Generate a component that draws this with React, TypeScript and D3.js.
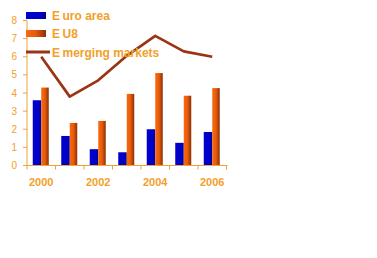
import React from "react";
import * as d3 from "d3";

const years = ["2000", "2001", "2002", "2003", "2004", "2005", "2006"];
const euroArea = [3.6, 1.63, 0.9, 0.73, 2.0, 1.25, 1.85];
const eu8 = [4.3, 2.35, 2.46, 3.95, 5.1, 3.85, 4.27];
const emerging = [6.0, 3.8, 4.7, 6.05, 7.15, 6.3, 6.0];
const yTicks = [0, 1, 2, 3, 4, 5, 6, 7, 8];
const xLabels = ["2000", "2002", "2004", "2006"];
const seriesNames = ["Euro area", "EU8", "Emerging markets"];

const W = 377, H = 258;
const left = 27, right = 226.5, top = 20.5, bottom = 165.5;
const axisColor = "#EEA23A";
const textColor = "#F2A02A";
const lineColor = "#9A3412";

export default function App() {
  const x = d3.scaleBand<string>().domain(years).range([left, right]).padding(0);
  const y = d3.scaleLinear().domain([0, 8]).range([bottom, top]);
  const bw = 8;
  const line = d3
    .line<number>()
    .x((_, i) => (x(years[i]) as number) + x.bandwidth() / 2)
    .y((d) => y(d))
    .curve(d3.curveLinear);

  return (
    <svg width={W} height={H} style={{ position: "absolute", left: 0, top: 0 }} fontFamily="Arial, 'Liberation Sans', sans-serif">
      <defs>
        <linearGradient id="gBlue" x1="0" x2="1" y1="0" y2="0">
          <stop offset="0" stopColor="#0000D0" />
          <stop offset="0.7" stopColor="#0000C8" />
          <stop offset="1" stopColor="#000090" />
        </linearGradient>
        <linearGradient id="gOrange" x1="0" x2="1" y1="0" y2="0">
          <stop offset="0" stopColor="#F86A10" />
          <stop offset="0.5" stopColor="#E85A08" />
          <stop offset="1" stopColor="#8A3008" />
        </linearGradient>
      </defs>
      <rect width={W} height={H} fill="#fff" />
      {years.map((yr, i) => {
        const cx = (x(yr) as number) + x.bandwidth() / 2;
        return (
          <g key={yr}>
            <rect x={cx - bw - 0.5} y={y(euroArea[i])} width={bw + 0.5} height={y(0) - y(euroArea[i])} fill="url(#gBlue)" />
            <rect x={cx} y={y(eu8[i])} width={bw - 0.5} height={y(0) - y(eu8[i])} fill="url(#gOrange)" />
          </g>
        );
      })}
      <line x1={left} x2={left} y1={top} y2={bottom} stroke={axisColor} strokeWidth={1} />
      <line x1={left} x2={right + 1} y1={bottom} y2={bottom} stroke={axisColor} strokeWidth={1} />
      {yTicks.map((t) => (
        <g key={t}>
          <line x1={left - 4} x2={left} y1={y(t)} y2={y(t)} stroke={axisColor} />
          <text x={17} y={y(t) + 3.5} fontSize={10} fill={textColor} textAnchor="end">{t}</text>
        </g>
      ))}
      {years.concat(["end"]).map((yr, i) => {
        const xx = i < years.length ? (x(yr) as number) : right;
        return <line key={"xt" + i} x1={xx} x2={xx} y1={bottom} y2={bottom + 4} stroke={axisColor} />;
      })}
      {xLabels.map((l) => (
        <text key={l} x={(x(l) as number) + x.bandwidth() / 2} y={186} fontSize={11} fontWeight="bold" fill={textColor} textAnchor="middle">{l}</text>
      ))}
      <path d={line(emerging) as string} fill="none" stroke={lineColor} strokeWidth={2.7} strokeLinejoin="round" />
      <rect x={26} y={12} width={20} height={7} fill="url(#gBlue)" />
      <rect x={26} y={30} width={20} height={7} fill="url(#gOrange)" />
      <line x1={26} x2={50} y1={52} y2={52} stroke={lineColor} strokeWidth={3} />
      {seriesNames.map((s, i) => (
        <text key={s} x={52} y={19.5 + i * 18.5} fontSize={12} fontWeight="bold" fill={textColor}>
          <tspan>{s.slice(0, 1)}</tspan>
          <tspan dx={2.5}>{s.slice(1)}</tspan>
        </text>
      ))}
    </svg>
  );
}
